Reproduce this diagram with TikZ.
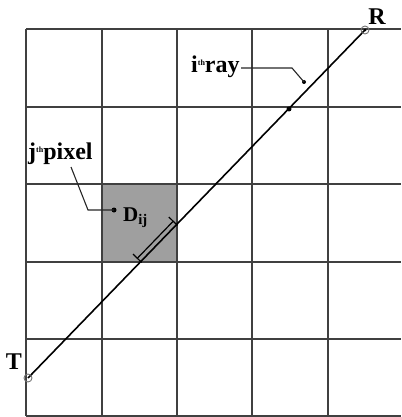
\documentclass[tikz,border=0pt]{standalone}
\usepackage{fontspec}
\setmainfont{Liberation Serif}
\usetikzlibrary{arrows.meta,calc}
\begin{document}
\begin{tikzpicture}[x=1pt,y=-1pt,
  gridline/.style={draw=black!75, line width=1.6pt},
  raystyle/.style={draw=black, line width=1.6pt},
  lbl/.style={font=\fontsize{24}{24}\selectfont\bfseries, inner sep=0pt},
  dlbl/.style={font=\fontsize{21}{21}\selectfont\bfseries, inner sep=0pt},
  leader/.style={draw=black!85, line width=1.1pt},
  enddot/.style={circle, fill=black, inner sep=0pt, minimum size=5pt},
  endpt/.style={circle, draw=black!55, line width=0.9pt, inner sep=0pt, minimum size=8pt}]
\useasboundingbox (0,0) rectangle (401,417);
% shaded pixel
\fill[gray!75!white] (102,184) rectangle (177,262);
% grid
\foreach \y in {29,107,184,262,339,416} \draw[gridline] (26,\y) -- (401,\y);
\foreach \x in {26,102,177,252,328} \draw[gridline] (\x,29) -- (\x,416);
% ray
\coordinate (T) at (28,378);
\coordinate (R) at (365,30);
\draw[raystyle] (T) -- (R);
\node[endpt] (Tc) at (T) {};
\node[endpt] (Rc) at (R) {};
\node[circle, fill=black, inner sep=0pt, minimum size=3pt] (Rd) at (R) {};
\node[lbl] (Tl) at (14,362) {T};
\node[lbl] (Rl) at (377,17) {R};
% crossing dot
\node[enddot] (cross) at (289,109) {};
% dimension of D_ij
\coordinate (c1) at (102,262);
\coordinate (c2) at (177,262);
\coordinate (c3) at (177,184);
\coordinate (A) at (intersection of T--R and c1--c2);
\coordinate (B) at (intersection of T--R and c2--c3);
\draw[line width=1.2pt, {Bar[width=12pt,line width=1.2pt]}-{Bar[width=12pt,line width=1.2pt]}]
  ($(A)+(-3.4,-3.3)$) -- ($(B)+(-3.4,-3.3)$);
\node[dlbl, anchor=base west] (D) at (123,221) {D\textsubscript{ij}};
% labels
\node[lbl, anchor=base west] (pix) at (28,159)
  {j\raisebox{0.6ex}{\fontsize{8}{8}\selectfont th}pixel};
\node[lbl, anchor=base west] (ray) at (191,73)
  {i\raisebox{0.7ex}{\fontsize{8}{8}\selectfont th}ray};
% leaders
\coordinate (ps) at (71,167);
\node[enddot] (pd) at (114,210) {};
\draw[leader] (ps) -- (88,210) -- (pd.center);
\coordinate (rs) at (241,68);
\node[enddot, minimum size=4pt] (rd) at (304,82) {};
\draw[leader] (rs) -- (292,68) -- (rd.center);
\end{tikzpicture}
\end{document}
